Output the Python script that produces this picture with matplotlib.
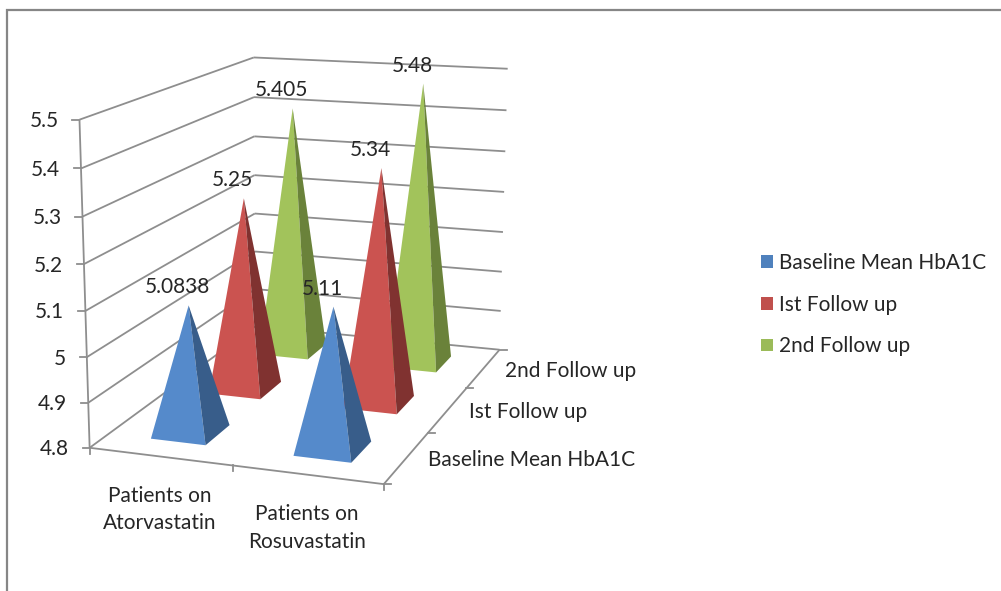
import numpy as np
import matplotlib
matplotlib.use("Agg")
import matplotlib.pyplot as plt
from matplotlib.patches import Polygon, Patch

categories = ["Patients on\nAtorvastatin", "Patients on\nRosuvastatin"]
series_names = ["Baseline Mean HbA1C", "Ist Follow up", "2nd Follow up"]
baseline = [5.0838, 5.11]
first_followup = [5.25, 5.34]
second_followup = [5.405, 5.48]
series_values = [baseline, first_followup, second_followup]
z_ticks = [4.8, 4.9, 5.0, 5.1, 5.2, 5.3, 5.4, 5.5]
z_tick_labels = ["4.8", "4.9", "5", "5.1", "5.2", "5.3", "5.4", "5.5"]
z_min, z_max = 4.8, 5.5

front_colors = ["#558ACB", "#CB5350", "#A2C35B"]
side_colors = ["#385D8A", "#803230", "#6A823A"]
legend_colors = ["#4F81BD", "#C0504D", "#9BBB59"]
GRID = "#8E8E8E"
TEXT = "#262626"
FONT = "Lato"
FS = 15

# Camera calibration of the 3D box: (category, series, value) -> canvas pixel
anchors = [
    ((0, 0, 4.8), (90, 446)), ((0, 0, 5.5), (80, 120)),
    ((2, 0, 4.8), (382, 487)), ((1, 0, 4.8), (231.5, 465)),
    ((0, 3, 4.8), (255, 329)), ((0, 3, 5.5), (254, 56)),
    ((2, 3, 4.8), (499, 348)), ((2, 3, 5.5), (507, 70)),
    ((2, 1, 4.8), (430, 432)), ((2, 2, 4.8), (468, 387)),
]
rows, rhs = [], []
for (x, y, z), (u, v) in anchors:
    rows.append([x, y, z, 1, 0, 0, 0, 0, -u * x, -u * y, -u * z])
    rhs.append(u)
    rows.append([0, 0, 0, 0, x, y, z, 1, -v * x, -v * y, -v * z])
    rhs.append(v)
P = np.append(np.linalg.lstsq(np.array(rows, float), np.array(rhs, float), rcond=None)[0], 1.0).reshape(3, 4)


def project(x, y, z):
    h = P @ np.array([x, y, z, 1.0])
    return h[0] / h[2], h[1] / h[2]


fig = plt.figure(figsize=(10.01, 5.91), dpi=100, facecolor="white")
ax = fig.add_axes([0, 0, 1, 1])
ax.set_xlim(0, 1001)
ax.set_ylim(591, 0)
ax.axis("off")

# chart frame
ax.plot([7, 7, 1001], [591, 10, 10], color="#868686", lw=1.6, solid_joinstyle="miter", zorder=1)


def seg(a, b, lw=1.3):
    pa, pb = project(*a), project(*b)
    ax.plot([pa[0], pb[0]], [pa[1], pb[1]], color=GRID, lw=lw, zorder=2, solid_capstyle="butt")


# walls
for z, lab in zip(z_ticks, z_tick_labels):
    seg((0, 0, z), (0, 3, z))
    seg((0, 3, z), (2, 3, z))
    u, v = project(0, 0, z)
    ax.plot([u - 7, u], [v, v], color=GRID, lw=1.3, zorder=2)
    ax.text(u - 21, v - 0.5, lab, ha="right", va="center_baseline", fontsize=FS, family=FONT, color=TEXT)
seg((0, 0, z_min), (0, 0, z_max))
seg((0, 0, z_min), (2, 0, z_min))
seg((2, 0, z_min), (2, 3, z_min))

# ticks on floor edges
for i in range(3):
    u, v = project(i, 0, z_min)
    ax.plot([u, u], [v, v + 6], color=GRID, lw=1.3, zorder=2)
for j in range(4):
    u, v = project(2, j, z_min)
    ax.plot([u, u + 7], [v, v], color=GRID, lw=1.3, zorder=2)

# category and series labels
for i, name in enumerate(categories):
    u, v = project(i + 0.5, 0, z_min)
    ax.text(u, v + 53, name, ha="center", va="center", fontsize=FS, family=FONT, color=TEXT,
            linespacing=1.49, multialignment="center")
for j, name in enumerate(series_names):
    u, v = project(2, j + 0.5, z_min)
    ax.text(u + 21, v + 0.5, name, ha="left", va="center_baseline", fontsize=FS, family=FONT, color=TEXT)

# pyramids, back to front
half_w, half_d = 0.195, 0.21
order = 10
for j in (2, 1, 0):
    for i in range(2):
        val = series_values[j][i]
        cx, cy = i + 0.5, j + 0.5
        apex = project(cx, cy, val)
        fl = project(cx - half_w, cy - half_d, z_min)
        fr = project(cx + half_w, cy - half_d, z_min)
        br = project(cx + half_w, cy + half_d, z_min)
        ax.add_patch(Polygon([fl, fr, apex], closed=True, fc=front_colors[j], ec="none", zorder=order))
        ax.add_patch(Polygon([fr, br, apex], closed=True, fc=side_colors[j], ec="none", zorder=order))
        order += 1
for j in (2, 1, 0):
    for i in range(2):
        val = series_values[j][i]
        u, v = project(i + 0.5, j + 0.5, val)
        ax.text(u - 11, v - 20, f"{val:g}", ha="center", va="center_baseline", fontsize=FS,
                family=FONT, color=TEXT, zorder=50)

handles = [Patch(fc=c, ec="none") for c in legend_colors]
leg = ax.legend(handles, series_names, loc="upper left", bbox_to_anchor=(761 / 1001, 1 - 253 / 591),
                bbox_transform=ax.transAxes, frameon=False, borderpad=0, borderaxespad=0,
                prop={"family": FONT, "size": FS}, labelspacing=1.04,
                handlelength=0.58, handleheight=0.58, handletextpad=0.29)
for t in leg.get_texts():
    t.set_color(TEXT)

fig.savefig("out.png", dpi=100)
